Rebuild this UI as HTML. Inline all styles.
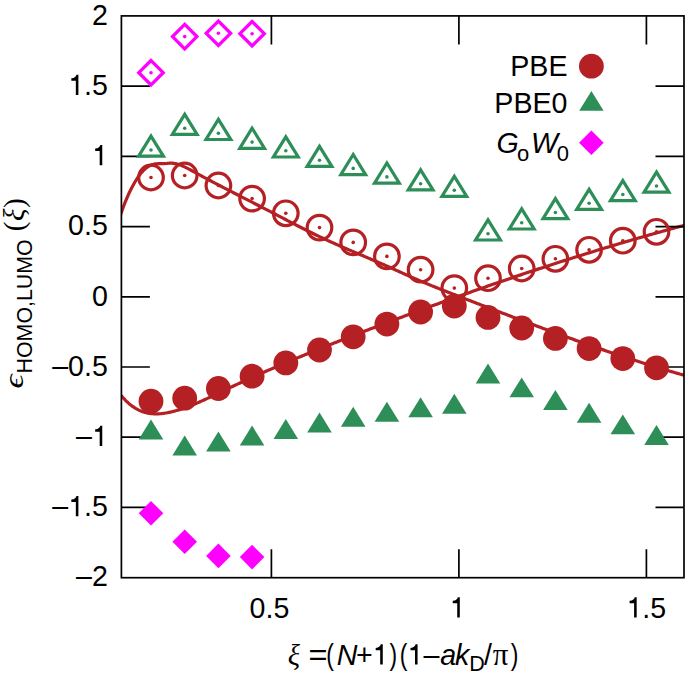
<!DOCTYPE html>
<html><head><meta charset="utf-8"><style>
html,body{margin:0;padding:0;background:#fff;width:685px;height:681px;overflow:hidden}
svg{display:block}
</style></head><body>
<svg width="685" height="681" viewBox="0 0 685 681"><rect x="0" y="0" width="685" height="681" fill="#fff"/>
<defs><clipPath id="cp"><rect x="121.4" y="15.9" width="562.6" height="561.8000000000001"/></clipPath></defs>
<g clip-path="url(#cp)" fill="none" stroke="#b42023" stroke-width="3.2" stroke-linejoin="round" stroke-linecap="round">
<path d="M119.5,218.38 L121.0,213.53 L122.5,209.12 L124.0,205.08 L125.5,201.34 L127.0,197.82 L128.5,194.47 L130.0,191.29 L131.5,188.28 L133.0,185.44 L134.5,182.77 L136.0,180.27 L137.5,177.95 L139.0,175.80 L140.5,173.83 L142.0,172.04 L143.5,170.43 L145.0,169.00 L146.5,167.76 L148.0,166.69 L149.5,165.81 L151.0,165.11 L152.5,164.58 L154.0,164.19 L155.5,163.92 L157.0,163.75 L158.5,163.65 L160.0,163.60 L161.5,163.59 L163.0,163.58 L164.5,163.55 L166.0,163.48 L167.5,163.36 L169.0,163.22 L170.5,163.14 L172.0,163.18 L173.5,163.32 L175.0,163.55 L176.5,163.88 L178.0,164.30 L179.5,164.78 L181.0,165.34 L182.5,165.96 L184.0,166.63 L185.5,167.34 L187.0,168.09 L188.5,168.88 L190.0,169.68 L191.5,170.50 L193.0,171.33 L194.5,172.15 L196.0,172.97 L197.5,173.79 L199.0,174.61 L200.5,175.42 L202.0,176.23 L203.5,177.04 L205.0,177.84 L206.5,178.64 L208.0,179.44 L209.5,180.24 L211.0,181.03 L212.5,181.82 L214.0,182.61 L215.5,183.40 L217.0,184.19 L218.5,184.97 L220.0,185.75 L221.5,186.53 L223.0,187.31 L224.5,188.09 L226.0,188.86 L227.5,189.64 L229.0,190.41 L230.5,191.18 L232.0,191.95 L233.5,192.72 L235.0,193.49 L236.5,194.26 L238.0,195.03 L239.5,195.80 L241.0,196.56 L242.5,197.33 L244.0,198.09 L245.5,198.86 L247.0,199.63 L248.5,200.39 L250.0,201.16 L251.5,201.92 L253.0,202.69 L254.5,203.45 L256.0,204.22 L257.5,204.99 L259.0,205.76 L260.5,206.53 L262.0,207.30 L263.5,208.07 L265.0,208.84 L266.5,209.61 L268.0,210.38 L269.5,211.16 L271.0,211.94 L272.5,212.71 L274.0,213.49 L275.5,214.28 L277.0,215.06 L278.5,215.84 L280.0,216.63 L281.5,217.41 L283.0,218.19 L284.5,218.98 L286.0,219.76 L287.5,220.55 L289.0,221.33 L290.5,222.11 L292.0,222.89 L293.5,223.67 L295.0,224.45 L296.5,225.22 L298.0,225.99 L299.5,226.76 L301.0,227.53 L302.5,228.29 L304.0,229.05 L305.5,229.80 L307.0,230.55 L308.5,231.30 L310.0,232.04 L311.5,232.78 L313.0,233.51 L314.5,234.24 L316.0,234.96 L317.5,235.68 L319.0,236.39 L320.5,237.10 L322.0,237.81 L323.5,238.51 L325.0,239.20 L326.5,239.90 L328.0,240.59 L329.5,241.27 L331.0,241.95 L332.5,242.63 L334.0,243.31 L335.5,243.98 L337.0,244.64 L338.5,245.31 L340.0,245.97 L341.5,246.62 L343.0,247.28 L344.5,247.93 L346.0,248.58 L347.5,249.22 L349.0,249.87 L350.5,250.51 L352.0,251.15 L353.5,251.79 L355.0,252.42 L356.5,253.06 L358.0,253.69 L359.5,254.33 L361.0,254.96 L362.5,255.59 L364.0,256.23 L365.5,256.86 L367.0,257.50 L368.5,258.13 L370.0,258.77 L371.5,259.40 L373.0,260.04 L374.5,260.68 L376.0,261.32 L377.5,261.97 L379.0,262.61 L380.5,263.26 L382.0,263.91 L383.5,264.57 L385.0,265.23 L386.5,265.89 L388.0,266.55 L389.5,267.22 L391.0,267.90 L392.5,268.57 L394.0,269.25 L395.5,269.93 L397.0,270.62 L398.5,271.30 L400.0,271.98 L401.5,272.66 L403.0,273.35 L404.5,274.02 L406.0,274.70 L407.5,275.38 L409.0,276.05 L410.5,276.71 L412.0,277.37 L413.5,278.03 L415.0,278.68 L416.5,279.33 L418.0,279.98 L419.5,280.62 L421.0,281.26 L422.5,281.89 L424.0,282.52 L425.5,283.14 L427.0,283.77 L428.5,284.38 L430.0,285.00 L431.5,285.61 L433.0,286.22 L434.5,286.83 L436.0,287.43 L437.5,288.04 L439.0,288.63 L440.5,289.23 L442.0,289.83 L443.5,290.42 L445.0,291.01 L446.5,291.60 L448.0,292.18 L449.5,292.77 L451.0,293.35 L452.5,293.94 L454.0,294.52 L455.5,295.10 L457.0,295.68 L458.5,296.25 L460.0,296.83 L461.5,297.41 L463.0,297.98 L464.5,298.56 L466.0,299.13 L467.5,299.71 L469.0,300.28 L470.5,300.86 L472.0,301.43 L473.5,302.01 L475.0,302.58 L476.5,303.16 L478.0,303.73 L479.5,304.31 L481.0,304.88 L482.5,305.45 L484.0,306.03 L485.5,306.60 L487.0,307.17 L488.5,307.75 L490.0,308.32 L491.5,308.89 L493.0,309.47 L494.5,310.04 L496.0,310.61 L497.5,311.18 L499.0,311.76 L500.5,312.33 L502.0,312.90 L503.5,313.47 L505.0,314.04 L506.5,314.61 L508.0,315.18 L509.5,315.75 L511.0,316.32 L512.5,316.88 L514.0,317.45 L515.5,318.02 L517.0,318.59 L518.5,319.15 L520.0,319.72 L521.5,320.28 L523.0,320.85 L524.5,321.41 L526.0,321.98 L527.5,322.54 L529.0,323.10 L530.5,323.66 L532.0,324.22 L533.5,324.78 L535.0,325.34 L536.5,325.90 L538.0,326.46 L539.5,327.02 L541.0,327.58 L542.5,328.13 L544.0,328.69 L545.5,329.24 L547.0,329.80 L548.5,330.35 L550.0,330.90 L551.5,331.46 L553.0,332.01 L554.5,332.56 L556.0,333.11 L557.5,333.65 L559.0,334.20 L560.5,334.75 L562.0,335.29 L563.5,335.84 L565.0,336.38 L566.5,336.92 L568.0,337.47 L569.5,338.01 L571.0,338.55 L572.5,339.08 L574.0,339.62 L575.5,340.16 L577.0,340.69 L578.5,341.23 L580.0,341.76 L581.5,342.29 L583.0,342.83 L584.5,343.36 L586.0,343.88 L587.5,344.41 L589.0,344.94 L590.5,345.46 L592.0,345.99 L593.5,346.51 L595.0,347.03 L596.5,347.55 L598.0,348.07 L599.5,348.59 L601.0,349.10 L602.5,349.62 L604.0,350.13 L605.5,350.65 L607.0,351.16 L608.5,351.67 L610.0,352.17 L611.5,352.68 L613.0,353.19 L614.5,353.69 L616.0,354.19 L617.5,354.69 L619.0,355.19 L620.5,355.69 L622.0,356.19 L623.5,356.68 L625.0,357.18 L626.5,357.67 L628.0,358.16 L629.5,358.65 L631.0,359.13 L632.5,359.62 L634.0,360.10 L635.5,360.59 L637.0,361.07 L638.5,361.55 L640.0,362.02 L641.5,362.50 L643.0,362.97 L644.5,363.44 L646.0,363.91 L647.5,364.38 L649.0,364.85 L650.5,365.31 L652.0,365.78 L653.5,366.24 L655.0,366.70 L656.5,367.16 L658.0,367.61 L659.5,368.06 L661.0,368.52 L662.5,368.97 L664.0,369.41 L665.5,369.86 L667.0,370.30 L668.5,370.75 L670.0,371.19 L671.5,371.63 L673.0,372.06 L674.5,372.50 L676.0,372.93 L677.5,373.36 L679.0,373.79 L680.5,374.21 L682.0,374.64 L683.5,375.06 L685.0,375.48"/>
<path d="M119.5,393.37 L121.0,395.26 L122.5,397.05 L124.0,398.73 L125.5,400.30 L127.0,401.77 L128.5,403.14 L130.0,404.42 L131.5,405.60 L133.0,406.69 L134.5,407.69 L136.0,408.60 L137.5,409.43 L139.0,410.18 L140.5,410.86 L142.0,411.45 L143.5,411.98 L145.0,412.43 L146.5,412.82 L148.0,413.14 L149.5,413.40 L151.0,413.60 L152.5,413.75 L154.0,413.84 L155.5,413.88 L157.0,413.87 L158.5,413.82 L160.0,413.73 L161.5,413.59 L163.0,413.42 L164.5,413.21 L166.0,412.97 L167.5,412.70 L169.0,412.41 L170.5,412.09 L172.0,411.74 L173.5,411.37 L175.0,410.98 L176.5,410.57 L178.0,410.14 L179.5,409.68 L181.0,409.21 L182.5,408.71 L184.0,408.20 L185.5,407.67 L187.0,407.12 L188.5,406.56 L190.0,405.99 L191.5,405.39 L193.0,404.79 L194.5,404.17 L196.0,403.54 L197.5,402.90 L199.0,402.24 L200.5,401.58 L202.0,400.91 L203.5,400.23 L205.0,399.54 L206.5,398.85 L208.0,398.15 L209.5,397.44 L211.0,396.73 L212.5,396.02 L214.0,395.30 L215.5,394.58 L217.0,393.86 L218.5,393.14 L220.0,392.42 L221.5,391.69 L223.0,390.98 L224.5,390.26 L226.0,389.54 L227.5,388.83 L229.0,388.12 L230.5,387.41 L232.0,386.71 L233.5,386.00 L235.0,385.30 L236.5,384.60 L238.0,383.91 L239.5,383.21 L241.0,382.52 L242.5,381.83 L244.0,381.14 L245.5,380.46 L247.0,379.77 L248.5,379.09 L250.0,378.41 L251.5,377.73 L253.0,377.06 L254.5,376.38 L256.0,375.71 L257.5,375.04 L259.0,374.38 L260.5,373.71 L262.0,373.05 L263.5,372.38 L265.0,371.72 L266.5,371.07 L268.0,370.41 L269.5,369.75 L271.0,369.10 L272.5,368.45 L274.0,367.80 L275.5,367.15 L277.0,366.51 L278.5,365.86 L280.0,365.22 L281.5,364.58 L283.0,363.94 L284.5,363.31 L286.0,362.67 L287.5,362.04 L289.0,361.40 L290.5,360.77 L292.0,360.14 L293.5,359.51 L295.0,358.89 L296.5,358.26 L298.0,357.64 L299.5,357.02 L301.0,356.40 L302.5,355.78 L304.0,355.16 L305.5,354.54 L307.0,353.93 L308.5,353.32 L310.0,352.70 L311.5,352.09 L313.0,351.48 L314.5,350.88 L316.0,350.27 L317.5,349.66 L319.0,349.06 L320.5,348.45 L322.0,347.85 L323.5,347.25 L325.0,346.65 L326.5,346.05 L328.0,345.46 L329.5,344.86 L331.0,344.26 L332.5,343.67 L334.0,343.08 L335.5,342.48 L337.0,341.89 L338.5,341.30 L340.0,340.71 L341.5,340.12 L343.0,339.54 L344.5,338.95 L346.0,338.36 L347.5,337.78 L349.0,337.20 L350.5,336.61 L352.0,336.03 L353.5,335.45 L355.0,334.87 L356.5,334.29 L358.0,333.71 L359.5,333.13 L361.0,332.55 L362.5,331.98 L364.0,331.40 L365.5,330.83 L367.0,330.25 L368.5,329.68 L370.0,329.10 L371.5,328.53 L373.0,327.96 L374.5,327.39 L376.0,326.82 L377.5,326.24 L379.0,325.67 L380.5,325.11 L382.0,324.54 L383.5,323.97 L385.0,323.40 L386.5,322.83 L388.0,322.27 L389.5,321.70 L391.0,321.14 L392.5,320.57 L394.0,320.01 L395.5,319.45 L397.0,318.88 L398.5,318.32 L400.0,317.76 L401.5,317.20 L403.0,316.64 L404.5,316.08 L406.0,315.52 L407.5,314.96 L409.0,314.41 L410.5,313.85 L412.0,313.29 L413.5,312.74 L415.0,312.18 L416.5,311.63 L418.0,311.07 L419.5,310.52 L421.0,309.97 L422.5,309.42 L424.0,308.87 L425.5,308.32 L427.0,307.77 L428.5,307.22 L430.0,306.67 L431.5,306.12 L433.0,305.58 L434.5,305.03 L436.0,304.49 L437.5,303.94 L439.0,303.40 L440.5,302.85 L442.0,302.31 L443.5,301.77 L445.0,301.23 L446.5,300.69 L448.0,300.15 L449.5,299.61 L451.0,299.07 L452.5,298.53 L454.0,298.00 L455.5,297.46 L457.0,296.92 L458.5,296.39 L460.0,295.85 L461.5,295.32 L463.0,294.79 L464.5,294.26 L466.0,293.73 L467.5,293.20 L469.0,292.67 L470.5,292.14 L472.0,291.61 L473.5,291.08 L475.0,290.55 L476.5,290.03 L478.0,289.50 L479.5,288.98 L481.0,288.45 L482.5,287.93 L484.0,287.41 L485.5,286.89 L487.0,286.37 L488.5,285.85 L490.0,285.33 L491.5,284.81 L493.0,284.29 L494.5,283.78 L496.0,283.26 L497.5,282.74 L499.0,282.23 L500.5,281.72 L502.0,281.20 L503.5,280.69 L505.0,280.18 L506.5,279.67 L508.0,279.16 L509.5,278.65 L511.0,278.14 L512.5,277.63 L514.0,277.13 L515.5,276.62 L517.0,276.12 L518.5,275.61 L520.0,275.11 L521.5,274.61 L523.0,274.10 L524.5,273.60 L526.0,273.10 L527.5,272.60 L529.0,272.10 L530.5,271.61 L532.0,271.11 L533.5,270.61 L535.0,270.12 L536.5,269.62 L538.0,269.13 L539.5,268.64 L541.0,268.15 L542.5,267.65 L544.0,267.16 L545.5,266.67 L547.0,266.19 L548.5,265.70 L550.0,265.21 L551.5,264.73 L553.0,264.24 L554.5,263.76 L556.0,263.27 L557.5,262.79 L559.0,262.31 L560.5,261.83 L562.0,261.35 L563.5,260.87 L565.0,260.39 L566.5,259.91 L568.0,259.44 L569.5,258.96 L571.0,258.49 L572.5,258.01 L574.0,257.54 L575.5,257.07 L577.0,256.60 L578.5,256.13 L580.0,255.66 L581.5,255.19 L583.0,254.72 L584.5,254.25 L586.0,253.79 L587.5,253.32 L589.0,252.86 L590.5,252.39 L592.0,251.93 L593.5,251.47 L595.0,251.01 L596.5,250.55 L598.0,250.09 L599.5,249.64 L601.0,249.18 L602.5,248.72 L604.0,248.27 L605.5,247.81 L607.0,247.36 L608.5,246.91 L610.0,246.46 L611.5,246.01 L613.0,245.56 L614.5,245.11 L616.0,244.66 L617.5,244.22 L619.0,243.77 L620.5,243.33 L622.0,242.88 L623.5,242.44 L625.0,242.00 L626.5,241.56 L628.0,241.12 L629.5,240.68 L631.0,240.24 L632.5,239.80 L634.0,239.37 L635.5,238.93 L637.0,238.50 L638.5,238.07 L640.0,237.64 L641.5,237.20 L643.0,236.77 L644.5,236.35 L646.0,235.92 L647.5,235.49 L649.0,235.06 L650.5,234.64 L652.0,234.21 L653.5,233.79 L655.0,233.37 L656.5,232.95 L658.0,232.53 L659.5,232.11 L661.0,231.69 L662.5,231.27 L664.0,230.86 L665.5,230.44 L667.0,230.03 L668.5,229.62 L670.0,229.20 L671.5,228.79 L673.0,228.38 L674.5,227.97 L676.0,227.57 L677.5,227.16 L679.0,226.75 L680.5,226.35 L682.0,225.95 L683.5,225.54 L685.0,225.14"/>
</g>
<g stroke="#000" stroke-width="1.7" fill="none">
<path d="M121.4,86.20h28.5M684.0,86.20h-28.5"/>
<path d="M121.4,156.40h28.5M684.0,156.40h-28.5"/>
<path d="M121.4,226.60h28.5M684.0,226.60h-28.5"/>
<path d="M121.4,296.80h28.5M684.0,296.80h-28.5"/>
<path d="M121.4,367.00h28.5M684.0,367.00h-28.5"/>
<path d="M121.4,437.20h28.5M684.0,437.20h-28.5"/>
<path d="M121.4,507.40h28.5M684.0,507.40h-28.5"/>
<path d="M271.40,577.7v-28.5M271.40,15.9v28.5"/>
<path d="M458.90,577.7v-28.5M458.90,15.9v28.5"/>
<path d="M646.40,577.7v-28.5M646.40,15.9v28.5"/>
<rect x="121.4" y="15.9" width="562.6" height="561.8000000000001"/>
</g>
<polygon points="151.00,60.50 138.80,72.70 151.00,84.90 163.20,72.70" fill="none" stroke="#ff00ff" stroke-width="3.3"/><circle cx="151.00" cy="72.70" r="1.8" fill="#ff00ff"/>
<polygon points="184.70,24.40 172.50,36.60 184.70,48.80 196.90,36.60" fill="none" stroke="#ff00ff" stroke-width="3.3"/><circle cx="184.70" cy="36.60" r="1.8" fill="#ff00ff"/>
<polygon points="218.40,21.10 206.20,33.30 218.40,45.50 230.60,33.30" fill="none" stroke="#ff00ff" stroke-width="3.3"/><circle cx="218.40" cy="33.30" r="1.8" fill="#ff00ff"/>
<polygon points="252.10,21.50 239.90,33.70 252.10,45.90 264.30,33.70" fill="none" stroke="#ff00ff" stroke-width="3.3"/><circle cx="252.10" cy="33.70" r="1.8" fill="#ff00ff"/>
<polygon points="151.00,500.90 138.70,513.20 151.00,525.50 163.30,513.20" fill="#ff00ff"/>
<polygon points="184.70,529.40 172.40,541.70 184.70,554.00 197.00,541.70" fill="#ff00ff"/>
<polygon points="218.40,543.60 206.10,555.90 218.40,568.20 230.70,555.90" fill="#ff00ff"/>
<polygon points="252.10,544.80 239.80,557.10 252.10,569.40 264.40,557.10" fill="#ff00ff"/>
<polygon points="151.00,136.11 138.60,156.20 163.40,156.20" fill="none" stroke="#2d8e58" stroke-width="3.2"/><circle cx="151.00" cy="150.00" r="1.8" fill="#2d8e58"/>
<polygon points="184.70,114.31 172.30,134.40 197.10,134.40" fill="none" stroke="#2d8e58" stroke-width="3.2"/><circle cx="184.70" cy="128.20" r="1.8" fill="#2d8e58"/>
<polygon points="218.40,119.41 206.00,139.50 230.80,139.50" fill="none" stroke="#2d8e58" stroke-width="3.2"/><circle cx="218.40" cy="133.30" r="1.8" fill="#2d8e58"/>
<polygon points="252.10,128.21 239.70,148.30 264.50,148.30" fill="none" stroke="#2d8e58" stroke-width="3.2"/><circle cx="252.10" cy="142.10" r="1.8" fill="#2d8e58"/>
<polygon points="285.80,136.91 273.40,157.00 298.20,157.00" fill="none" stroke="#2d8e58" stroke-width="3.2"/><circle cx="285.80" cy="150.80" r="1.8" fill="#2d8e58"/>
<polygon points="319.50,146.31 307.10,166.40 331.90,166.40" fill="none" stroke="#2d8e58" stroke-width="3.2"/><circle cx="319.50" cy="160.20" r="1.8" fill="#2d8e58"/>
<polygon points="353.20,154.51 340.80,174.60 365.60,174.60" fill="none" stroke="#2d8e58" stroke-width="3.2"/><circle cx="353.20" cy="168.40" r="1.8" fill="#2d8e58"/>
<polygon points="386.90,163.01 374.50,183.10 399.30,183.10" fill="none" stroke="#2d8e58" stroke-width="3.2"/><circle cx="386.90" cy="176.90" r="1.8" fill="#2d8e58"/>
<polygon points="420.60,169.81 408.20,189.90 433.00,189.90" fill="none" stroke="#2d8e58" stroke-width="3.2"/><circle cx="420.60" cy="183.70" r="1.8" fill="#2d8e58"/>
<polygon points="454.30,176.31 441.90,196.40 466.70,196.40" fill="none" stroke="#2d8e58" stroke-width="3.2"/><circle cx="454.30" cy="190.20" r="1.8" fill="#2d8e58"/>
<polygon points="488.00,219.91 475.60,240.00 500.40,240.00" fill="none" stroke="#2d8e58" stroke-width="3.2"/><circle cx="488.00" cy="233.80" r="1.8" fill="#2d8e58"/>
<polygon points="521.70,208.91 509.30,229.00 534.10,229.00" fill="none" stroke="#2d8e58" stroke-width="3.2"/><circle cx="521.70" cy="222.80" r="1.8" fill="#2d8e58"/>
<polygon points="555.40,198.61 543.00,218.70 567.80,218.70" fill="none" stroke="#2d8e58" stroke-width="3.2"/><circle cx="555.40" cy="212.50" r="1.8" fill="#2d8e58"/>
<polygon points="589.10,189.31 576.70,209.40 601.50,209.40" fill="none" stroke="#2d8e58" stroke-width="3.2"/><circle cx="589.10" cy="203.20" r="1.8" fill="#2d8e58"/>
<polygon points="622.80,180.61 610.40,200.70 635.20,200.70" fill="none" stroke="#2d8e58" stroke-width="3.2"/><circle cx="622.80" cy="194.50" r="1.8" fill="#2d8e58"/>
<polygon points="656.50,172.11 644.10,192.20 668.90,192.20" fill="none" stroke="#2d8e58" stroke-width="3.2"/><circle cx="656.50" cy="186.00" r="1.8" fill="#2d8e58"/>
<polygon points="151.00,419.62 138.70,439.55 163.30,439.55" fill="#2d8e58"/>
<polygon points="184.70,435.52 172.40,455.45 197.00,455.45" fill="#2d8e58"/>
<polygon points="218.40,431.62 206.10,451.55 230.70,451.55" fill="#2d8e58"/>
<polygon points="252.10,425.62 239.80,445.55 264.40,445.55" fill="#2d8e58"/>
<polygon points="285.80,419.12 273.50,439.05 298.10,439.05" fill="#2d8e58"/>
<polygon points="319.50,412.62 307.20,432.55 331.80,432.55" fill="#2d8e58"/>
<polygon points="353.20,406.72 340.90,426.65 365.50,426.65" fill="#2d8e58"/>
<polygon points="386.90,401.72 374.60,421.65 399.20,421.65" fill="#2d8e58"/>
<polygon points="420.60,397.32 408.30,417.25 432.90,417.25" fill="#2d8e58"/>
<polygon points="454.30,393.82 442.00,413.75 466.60,413.75" fill="#2d8e58"/>
<polygon points="488.00,363.52 475.70,383.45 500.30,383.45" fill="#2d8e58"/>
<polygon points="521.70,377.42 509.40,397.35 534.00,397.35" fill="#2d8e58"/>
<polygon points="555.40,390.02 543.10,409.95 567.70,409.95" fill="#2d8e58"/>
<polygon points="589.10,402.82 576.80,422.75 601.40,422.75" fill="#2d8e58"/>
<polygon points="622.80,414.42 610.50,434.35 635.10,434.35" fill="#2d8e58"/>
<polygon points="656.50,425.12 644.20,445.05 668.80,445.05" fill="#2d8e58"/>
<circle cx="151.00" cy="177.50" r="12.3" fill="none" stroke="#b42023" stroke-width="3.2"/><circle cx="151.00" cy="177.50" r="1.8" fill="#b42023"/>
<circle cx="184.70" cy="175.50" r="12.3" fill="none" stroke="#b42023" stroke-width="3.2"/><circle cx="184.70" cy="175.50" r="1.8" fill="#b42023"/>
<circle cx="218.40" cy="185.50" r="12.3" fill="none" stroke="#b42023" stroke-width="3.2"/><circle cx="218.40" cy="185.50" r="1.8" fill="#b42023"/>
<circle cx="252.10" cy="198.60" r="12.3" fill="none" stroke="#b42023" stroke-width="3.2"/><circle cx="252.10" cy="198.60" r="1.8" fill="#b42023"/>
<circle cx="285.80" cy="213.30" r="12.3" fill="none" stroke="#b42023" stroke-width="3.2"/><circle cx="285.80" cy="213.30" r="1.8" fill="#b42023"/>
<circle cx="319.50" cy="227.60" r="12.3" fill="none" stroke="#b42023" stroke-width="3.2"/><circle cx="319.50" cy="227.60" r="1.8" fill="#b42023"/>
<circle cx="353.20" cy="242.40" r="12.3" fill="none" stroke="#b42023" stroke-width="3.2"/><circle cx="353.20" cy="242.40" r="1.8" fill="#b42023"/>
<circle cx="386.90" cy="256.40" r="12.3" fill="none" stroke="#b42023" stroke-width="3.2"/><circle cx="386.90" cy="256.40" r="1.8" fill="#b42023"/>
<circle cx="420.60" cy="269.70" r="12.3" fill="none" stroke="#b42023" stroke-width="3.2"/><circle cx="420.60" cy="269.70" r="1.8" fill="#b42023"/>
<circle cx="454.30" cy="288.10" r="12.3" fill="none" stroke="#b42023" stroke-width="3.2"/><circle cx="454.30" cy="288.10" r="1.8" fill="#b42023"/>
<circle cx="488.00" cy="278.20" r="12.3" fill="none" stroke="#b42023" stroke-width="3.2"/><circle cx="488.00" cy="278.20" r="1.8" fill="#b42023"/>
<circle cx="521.70" cy="268.50" r="12.3" fill="none" stroke="#b42023" stroke-width="3.2"/><circle cx="521.70" cy="268.50" r="1.8" fill="#b42023"/>
<circle cx="555.40" cy="258.80" r="12.3" fill="none" stroke="#b42023" stroke-width="3.2"/><circle cx="555.40" cy="258.80" r="1.8" fill="#b42023"/>
<circle cx="589.10" cy="249.80" r="12.3" fill="none" stroke="#b42023" stroke-width="3.2"/><circle cx="589.10" cy="249.80" r="1.8" fill="#b42023"/>
<circle cx="622.80" cy="240.70" r="12.3" fill="none" stroke="#b42023" stroke-width="3.2"/><circle cx="622.80" cy="240.70" r="1.8" fill="#b42023"/>
<circle cx="656.50" cy="231.80" r="12.3" fill="none" stroke="#b42023" stroke-width="3.2"/><circle cx="656.50" cy="231.80" r="1.8" fill="#b42023"/>
<circle cx="151.00" cy="401.20" r="12.4" fill="#b42023"/>
<circle cx="184.70" cy="398.20" r="12.4" fill="#b42023"/>
<circle cx="218.40" cy="388.50" r="12.4" fill="#b42023"/>
<circle cx="252.10" cy="376.20" r="12.4" fill="#b42023"/>
<circle cx="285.80" cy="362.90" r="12.4" fill="#b42023"/>
<circle cx="319.50" cy="350.00" r="12.4" fill="#b42023"/>
<circle cx="353.20" cy="336.80" r="12.4" fill="#b42023"/>
<circle cx="386.90" cy="324.10" r="12.4" fill="#b42023"/>
<circle cx="420.60" cy="312.00" r="12.4" fill="#b42023"/>
<circle cx="454.30" cy="306.10" r="12.4" fill="#b42023"/>
<circle cx="488.00" cy="317.40" r="12.4" fill="#b42023"/>
<circle cx="521.70" cy="328.00" r="12.4" fill="#b42023"/>
<circle cx="555.40" cy="338.40" r="12.4" fill="#b42023"/>
<circle cx="589.10" cy="348.60" r="12.4" fill="#b42023"/>
<circle cx="622.80" cy="358.60" r="12.4" fill="#b42023"/>
<circle cx="656.50" cy="367.80" r="12.4" fill="#b42023"/>
<circle cx="591.4" cy="66.2" r="12.4" fill="#b42023"/>
<polygon points="591.40,90.94 579.20,110.70 603.60,110.70" fill="#2d8e58"/>
<polygon points="591.40,130.40 579.10,142.70 591.40,155.00 603.70,142.70" fill="#ff00ff"/>
<g font-family="Liberation Sans, sans-serif" font-size="28.6" fill="#000">
<text x="91.89" y="24.80" font-family="Liberation Sans, sans-serif" font-size="28.6">2</text>
<path d="M362,0L362,709L294,709C280,652 237,592 115,584L115,499L272,499L272,0Z" transform="translate(68.05,95.00) scale(0.02860,-0.02860)"/>
<text x="83.95" y="95.00" font-family="Liberation Sans, sans-serif" font-size="28.6">.</text>
<text x="91.89" y="95.00" font-family="Liberation Sans, sans-serif" font-size="28.6">5</text>
<path d="M362,0L362,709L294,709C280,652 237,592 115,584L115,499L272,499L272,0Z" transform="translate(91.90,165.20) scale(0.02860,-0.02860)"/>
<text x="68.04" y="235.40" font-family="Liberation Sans, sans-serif" font-size="28.6">0</text>
<text x="83.95" y="235.40" font-family="Liberation Sans, sans-serif" font-size="28.6">.</text>
<text x="91.89" y="235.40" font-family="Liberation Sans, sans-serif" font-size="28.6">5</text>
<text x="91.89" y="305.60" font-family="Liberation Sans, sans-serif" font-size="28.6">0</text>
<text x="52.14" y="375.80" font-family="Liberation Sans, sans-serif" font-size="28.6">–</text>
<text x="68.04" y="375.80" font-family="Liberation Sans, sans-serif" font-size="28.6">0</text>
<text x="83.95" y="375.80" font-family="Liberation Sans, sans-serif" font-size="28.6">.</text>
<text x="91.89" y="375.80" font-family="Liberation Sans, sans-serif" font-size="28.6">5</text>
<text x="75.99" y="446.00" font-family="Liberation Sans, sans-serif" font-size="28.6">–</text>
<path d="M362,0L362,709L294,709C280,652 237,592 115,584L115,499L272,499L272,0Z" transform="translate(91.90,446.00) scale(0.02860,-0.02860)"/>
<text x="52.14" y="516.20" font-family="Liberation Sans, sans-serif" font-size="28.6">–</text>
<path d="M362,0L362,709L294,709C280,652 237,592 115,584L115,499L272,499L272,0Z" transform="translate(68.05,516.20) scale(0.02860,-0.02860)"/>
<text x="83.95" y="516.20" font-family="Liberation Sans, sans-serif" font-size="28.6">.</text>
<text x="91.89" y="516.20" font-family="Liberation Sans, sans-serif" font-size="28.6">5</text>
<text x="75.99" y="586.40" font-family="Liberation Sans, sans-serif" font-size="28.6">–</text>
<text x="91.89" y="586.40" font-family="Liberation Sans, sans-serif" font-size="28.6">2</text>
<text x="249.62" y="617.50" font-family="Liberation Sans, sans-serif" font-size="28.6">0</text>
<text x="265.53" y="617.50" font-family="Liberation Sans, sans-serif" font-size="28.6">.</text>
<text x="273.47" y="617.50" font-family="Liberation Sans, sans-serif" font-size="28.6">5</text>
<path d="M362,0L362,709L294,709C280,652 237,592 115,584L115,499L272,499L272,0Z" transform="translate(449.45,617.50) scale(0.02860,-0.02860)"/>
<path d="M362,0L362,709L294,709C280,652 237,592 115,584L115,499L272,499L272,0Z" transform="translate(626.32,617.50) scale(0.02860,-0.02860)"/>
<text x="642.22" y="617.50" font-family="Liberation Sans, sans-serif" font-size="28.6">.</text>
<text x="650.17" y="617.50" font-family="Liberation Sans, sans-serif" font-size="28.6">5</text>
<text x="510.27" y="76.30" font-family="Liberation Sans, sans-serif" font-size="28.6">P</text>
<text x="529.35" y="76.30" font-family="Liberation Sans, sans-serif" font-size="28.6">B</text>
<text x="548.42" y="76.30" font-family="Liberation Sans, sans-serif" font-size="28.6">E</text>
<text x="494.37" y="112.70" font-family="Liberation Sans, sans-serif" font-size="28.6">P</text>
<text x="513.44" y="112.70" font-family="Liberation Sans, sans-serif" font-size="28.6">B</text>
<text x="532.52" y="112.70" font-family="Liberation Sans, sans-serif" font-size="28.6">E</text>
<text x="551.59" y="112.70" font-family="Liberation Sans, sans-serif" font-size="28.6">0</text>
<text x="496.49" y="153.00" font-family="Liberation Sans, sans-serif" font-size="28.6" font-style="italic">G</text>
<text x="516.98" y="160.50" font-family="Liberation Sans, sans-serif" font-size="22">o</text>
<text x="530.93" y="153.00" font-family="Liberation Sans, sans-serif" font-size="28.6" font-style="italic">W</text>
<text x="556.64" y="160.50" font-family="Liberation Sans, sans-serif" font-size="22">0</text>
<text x="287.82" y="664.60" font-family="Liberation Serif, serif" font-size="28.6" font-style="italic">ξ</text>
<text transform="translate(308.51,664.60) scale(1.14,1)" font-family="Liberation Sans, sans-serif" font-size="28.6">=</text>
<text transform="translate(326.18,664.60) scale(0.8,1)" font-family="Liberation Sans, sans-serif" font-size="28.6">(</text>
<text x="336.72" y="664.60" font-family="Liberation Sans, sans-serif" font-size="28.6" font-style="italic">N</text>
<text x="356.00" y="664.60" font-family="Liberation Sans, sans-serif" font-size="28.6">+</text>
<path d="M362,0L362,709L294,709C280,652 237,592 115,584L115,499L272,499L272,0Z" transform="translate(372.41,664.60) scale(0.02860,-0.02860)"/>
<text transform="translate(389.47,664.60) scale(0.8,1)" font-family="Liberation Sans, sans-serif" font-size="28.6">)</text>
<text transform="translate(399.78,664.60) scale(0.8,1)" font-family="Liberation Sans, sans-serif" font-size="28.6">(</text>
<path d="M362,0L362,709L294,709C280,652 237,592 115,584L115,499L272,499L272,0Z" transform="translate(407.21,664.60) scale(0.02860,-0.02860)"/>
<text x="423.40" y="664.60" font-family="Liberation Sans, sans-serif" font-size="28.6">–</text>
<text x="440.26" y="664.60" font-family="Liberation Sans, sans-serif" font-size="28.6" font-style="italic">a</text>
<text x="455.03" y="664.60" font-family="Liberation Sans, sans-serif" font-size="28.6" font-style="italic">k</text>
<text x="469.34" y="670.60" font-family="Liberation Sans, sans-serif" font-size="21.5">D</text>
<text x="484.00" y="664.60" font-family="Liberation Sans, sans-serif" font-size="28.6">/</text>
<text x="492.78" y="664.60" font-family="Liberation Serif, serif" font-size="31">π</text>
<text transform="translate(510.67,664.60) scale(0.8,1)" font-family="Liberation Sans, sans-serif" font-size="28.6">)</text>
<text transform="translate(23,388.5) rotate(-90) scale(1.22,0.95)" font-family="Liberation Serif, serif" font-style="italic">ϵ</text>
<text transform="translate(32.3,373.4) rotate(-90)" font-size="22" textLength="134" lengthAdjust="spacingAndGlyphs">HOMO,LUMO</text>
<text transform="translate(24,231.2) rotate(-90)" font-family="Liberation Serif, serif" font-size="29">(</text>
<text transform="translate(24,221) rotate(-90)" font-family="Liberation Serif, serif" font-style="italic" font-size="29">ξ</text>
<text transform="translate(24,208) rotate(-90)" font-family="Liberation Serif, serif" font-size="29">)</text>
</g></svg>
</body></html>
